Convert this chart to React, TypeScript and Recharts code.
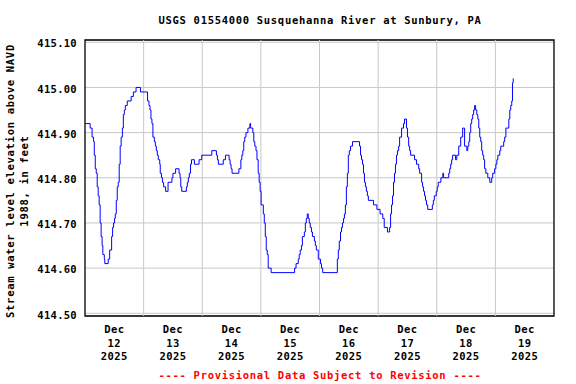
import React from 'react';
import { LineChart, Line, XAxis, YAxis, CartesianGrid, ReferenceLine, ReferenceArea } from 'recharts';

// hours since Dec 12 2025 00:00, stage in ft above NAVD 1988
const hours = [
  0, 2.1, 2.9, 3.5, 3.8, 4.2, 4.6, 5.0, 5.4, 5.8, 6.2, 6.6, 7.0, 7.3, 7.9, 8.1, 9.5, 10.1, 10.9, 11.3,
  11.7, 12.1, 12.4, 12.8, 13.2, 13.6, 14.0, 14.4, 14.8, 15.3, 15.7, 16.1, 16.5, 17.3, 18.9, 19.8, 20.9, 22.7,
  25.6, 26.2, 26.6, 27.0, 27.4, 27.8, 28.4, 28.8, 29.2, 29.6, 30.0, 30.6, 30.8, 31.3, 31.7, 32.2, 33.0, 34.0,
  35.6, 36.0, 37.1, 38.5, 38.9, 39.2, 39.6, 41.5, 41.9, 42.3, 42.7, 43.2, 43.6, 44.8, 46.7, 47.8, 51.9, 53.8,
  54.2, 54.6, 56.6, 57.5, 59.0, 59.4, 59.8, 60.2, 63.0, 63.8, 64.2, 64.6, 65.0, 65.4, 65.9, 66.7, 67.5, 67.8,
  68.7, 69.1, 69.5, 70.0, 70.4, 70.9, 71.3, 71.7, 72.1, 73.0, 73.4, 73.8, 74.2, 74.6, 75.0, 76.2, 85.8, 86.4,
  87.3, 87.7, 88.1, 88.6, 89.0, 89.8, 90.2, 90.6, 91.0, 91.4, 91.8, 92.2, 92.7, 93.1, 93.9, 94.3, 94.7, 95.5,
  96.4, 96.8, 97.3, 103.3, 103.7, 104.1, 104.6, 105.0, 105.4, 105.8, 106.2, 106.6, 107.0, 107.4, 107.8, 108.2,
  108.7, 109.5, 112.4, 112.8, 113.2, 113.6, 114.0, 114.4, 114.8, 115.2, 115.6, 116.0, 118.1, 119.5, 120.8,
  121.9, 122.5, 123.8, 124.7, 125.1, 125.5, 125.9, 126.3, 126.7, 127.1, 127.5, 127.9, 128.4, 128.8, 129.6,
  130.4, 130.8, 131.6, 132.0, 132.5, 132.9, 133.3, 134.9, 135.7, 136.6, 137.0, 137.8, 138.2, 138.6, 139.0,
  139.4, 139.8, 140.3, 142.2, 142.6, 143.0, 143.8, 144.2, 144.6, 145.7, 146.5, 146.8, 148.9, 149.3, 149.7,
  150.1, 150.5, 151.7, 152.2, 153.0, 153.8, 154.6, 155.4, 156.3, 156.7, 157.1, 157.5, 157.9, 158.3, 158.7,
  159.1, 159.5, 159.9, 160.4, 160.8, 161.2, 161.6, 162.0, 162.4, 162.8, 163.2, 163.6, 164.1, 164.9, 165.7,
  166.5, 166.9, 167.7, 168.2, 168.6, 169.0, 169.8, 170.2, 171.4, 171.8, 172.3, 173.5, 173.9, 174.3, 174.7,
  175.0, 175.3,
];

const stage = [
  414.92, 414.91, 414.89, 414.88, 414.85, 414.82, 414.81, 414.78, 414.76, 414.74, 414.70, 414.67, 414.65, 414.63, 414.62, 414.61, 414.62, 414.64, 414.67, 414.69,
  414.70, 414.71, 414.72, 414.75, 414.78, 414.79, 414.83, 414.87, 414.89, 414.91, 414.94, 414.95, 414.96, 414.97, 414.98, 414.99, 415.00, 414.99,
  414.97, 414.96, 414.95, 414.93, 414.92, 414.89, 414.88, 414.87, 414.86, 414.85, 414.84, 414.83, 414.81, 414.80, 414.79, 414.78, 414.77, 414.79,
  414.80, 414.81, 414.82, 414.81, 414.80, 414.78, 414.77, 414.78, 414.79, 414.80, 414.81, 414.83, 414.84, 414.83, 414.84, 414.85, 414.86, 414.85,
  414.84, 414.83, 414.84, 414.85, 414.84, 414.83, 414.82, 414.81, 414.82, 414.84, 414.85, 414.86, 414.88, 414.89, 414.90, 414.91, 414.92, 414.91,
  414.90, 414.88, 414.87, 414.86, 414.84, 414.81, 414.79, 414.77, 414.74, 414.72, 414.70, 414.67, 414.64, 414.63, 414.60, 414.59, 414.60, 414.61,
  414.62, 414.63, 414.64, 414.65, 414.67, 414.68, 414.70, 414.71, 414.72, 414.71, 414.70, 414.69, 414.68, 414.67, 414.66, 414.65, 414.64, 414.62,
  414.61, 414.60, 414.59, 414.62, 414.64, 414.66, 414.68, 414.69, 414.70, 414.71, 414.72, 414.74, 414.78, 414.81, 414.85, 414.86,
  414.87, 414.88, 414.87, 414.85, 414.84, 414.83, 414.81, 414.79, 414.78, 414.77, 414.76, 414.75, 414.74, 414.73, 414.72,
  414.71, 414.69, 414.68, 414.69, 414.72, 414.74, 414.76, 414.79, 414.81, 414.83, 414.85, 414.86, 414.87, 414.89, 414.91,
  414.92, 414.93, 414.91, 414.89, 414.87, 414.86, 414.85, 414.84, 414.83, 414.82, 414.81, 414.79, 414.78, 414.77, 414.76,
  414.75, 414.74, 414.73, 414.74, 414.75, 414.76, 414.77, 414.78, 414.79, 414.80, 414.81, 414.80, 414.81, 414.82, 414.83,
  414.84, 414.85, 414.84, 414.85, 414.87, 414.89, 414.91, 414.87, 414.86, 414.87, 414.88, 414.90, 414.92, 414.93, 414.94,
  414.95, 414.96, 414.95, 414.94, 414.93, 414.91, 414.89, 414.88, 414.86, 414.85, 414.84, 414.82, 414.81, 414.80, 414.79,
  414.80, 414.81, 414.82, 414.83, 414.84, 414.85, 414.86, 414.87, 414.88, 414.89, 414.91, 414.93, 414.95, 414.96, 414.97,
  415.01, 415.02,
];

const dayBreaks = [24, 48, 72, 96, 120, 144, 168];
const labelHours = [12, 36, 60, 84, 108, 132, 156, 180];
const dayLabels = ['12', '13', '14', '15', '16', '17', '18', '19'];
const yTicks = [414.5, 414.6, 414.7, 414.8, 414.9, 415.0, 415.1];

const data = hours.map((h, i) => ({ h, v: stage[i] }));

const MONO = '"DejaVu Sans Mono", monospace';
const X_DOMAIN: [number, number] = [0, 192];
const Y_DOMAIN: [number, number] = [414.494, 415.105];

const DayTick = (props: any) => {
  const { x, y, payload } = props;
  const idx = labelHours.indexOf(payload.value);
  return (
    <text x={x} y={y} textAnchor="middle" fontFamily={MONO} fontSize={10.5} fontWeight="bold" fill="#000" letterSpacing={0.4}>
      <tspan x={x} dy={9}>Dec</tspan>
      <tspan x={x} dy={13.5}>{dayLabels[idx]}</tspan>
      <tspan x={x} dy={13.5}>2025</tspan>
    </text>
  );
};

const textStyle: React.CSSProperties = {
  position: 'absolute',
  fontFamily: MONO,
  fontWeight: 'bold',
  fontSize: 10.5,
  letterSpacing: 0.7,
  lineHeight: '12px',
  whiteSpace: 'nowrap',
  textAlign: 'center',
};

export default function App() {
  return (
    <div style={{ position: 'absolute', left: 0, top: 0, width: 576, height: 384, background: '#fff' }}>
      <div style={{ ...textStyle, left: 120, top: 14, width: 400 }}>
        USGS 01554000 Susquehanna River at Sunbury, PA
      </div>
      <div
        style={{
          ...textStyle,
          left: 17 - 150,
          top: 181 - 14,
          width: 300,
          height: 28,
          lineHeight: '14px',
          transform: 'rotate(-90deg)',
        }}
      >
        Stream water level elevation above NAVD
        <br />
        1988, in feet
      </div>
      <LineChart
        width={576}
        height={384}
        data={data}
        margin={{ top: 40, right: 22, bottom: 18, left: 0 }}
      >
        <CartesianGrid vertical={false} stroke="#c8c8c8" strokeWidth={1} />
        {dayBreaks.map((d) => (
          <ReferenceLine key={d} x={d} stroke="#c8c8c8" strokeWidth={1} />
        ))}
        <XAxis
          dataKey="h"
          type="number"
          domain={X_DOMAIN}
          ticks={labelHours}
          tick={<DayTick />}
          tickLine={false}
          axisLine={false}
          height={50}
          interval={0}
          allowDataOverflow
        />
        <YAxis
          type="number"
          domain={Y_DOMAIN}
          ticks={yTicks}
          width={85}
          tickLine={false}
          axisLine={false}
          interval={0}
          allowDataOverflow
          tickFormatter={(v: number) => v.toFixed(2)}
          tick={{ fontFamily: MONO, fontSize: 10.5, fontWeight: 'bold', fill: '#000', letterSpacing: 0.3, dy: 1.5 }}
        />
        <ReferenceArea
          x1={X_DOMAIN[0]}
          x2={X_DOMAIN[1]}
          y1={Y_DOMAIN[0]}
          y2={Y_DOMAIN[1]}
          fill="none"
          stroke="#000"
          strokeWidth={1.3}
          fillOpacity={0}
        />
        <Line
          dataKey="v"
          type="stepAfter"
          stroke="#0000ff"
          strokeWidth={1}
          dot={false}
          isAnimationActive={false}
        />
      </LineChart>
      <div style={{ ...textStyle, color: '#ff0000', left: 120, top: 369, width: 400 }}>
        ---- Provisional Data Subject to Revision ----
      </div>
    </div>
  );
}
